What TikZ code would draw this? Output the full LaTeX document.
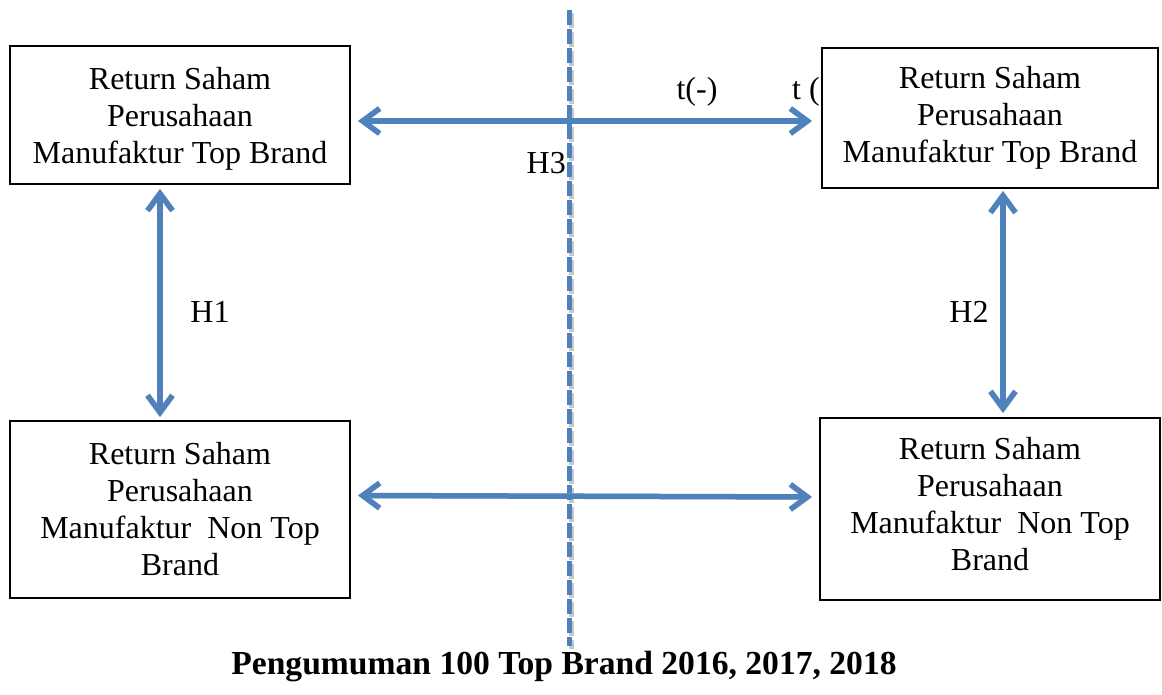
\documentclass[tikz,border=0pt]{standalone}
\usepackage{fontspec}
\setmainfont{Liberation Serif}
\usetikzlibrary{arrows.meta}
\definecolor{ablue}{RGB}{79,129,189}
\definecolor{ashadow}{RGB}{200,200,200}
\tikzset{
  box/.style={draw=black, line width=2pt, fill=white, align=center,
    font=\fontsize{32}{37}\selectfont, inner sep=0pt},
  lbl/.style={font=\fontsize{32}{37}\selectfont, inner sep=0pt},
  tips/.style={{Straight Barb[length=17pt,width=25pt]}-{Straight Barb[length=17pt,width=25pt]}},
  conn/.style={draw=ablue, line width=5.5pt, tips},
  connshadow/.style={draw=ashadow, line width=5.5pt, tips},
  divider/.style={draw=ablue, line width=5pt, dash pattern=on 15pt off 4pt},
  dividershadow/.style={draw=ashadow, line width=5pt, dash pattern=on 15pt off 4pt},
}
\begin{document}
\begin{tikzpicture}[x=1pt,y=-1pt]
\useasboundingbox (0,0) rectangle (1162,695);

% divider
\coordinate (dtop) at (569,10);
\coordinate (dbot) at (569,646);
\draw[dividershadow] ([shift={(2,3)}]dtop) -- ([shift={(2,3)}]dbot);
\draw[divider] (dtop) -- (dbot);

% label partly hidden behind the right box
\node[lbl, anchor=west] (tplus) at (792,92) {t (+)};

% boxes
\node[box, minimum width=340pt, minimum height=138pt, text depth=0pt] (tl) at (180,115)
  {Return Saham\\Perusahaan\\Manufaktur Top Brand};
\node[box, minimum width=336pt, minimum height=140pt] (tr) at (990,118)
  {Return Saham\\Perusahaan\\Manufaktur Top Brand};
\node[box, minimum width=340pt, minimum height=177pt] (bl) at (180,509.5)
  {Return Saham\\Perusahaan\\Manufaktur\ \ Non Top\\Brand};
\node[box, minimum width=340pt, minimum height=182pt, text depth=10pt] (br) at (990,509)
  {Return Saham\\Perusahaan\\Manufaktur\ \ Non Top\\Brand};

% labels
\node[lbl] (tminus) at (697,92) {t(-)};
\node[lbl, anchor=east] (h3) at (566,163) {H3};
\node[lbl] (h1) at (210,312) {H1};
\node[lbl] (h2) at (969,312) {H2};
\node[font=\fontsize{33.6}{38}\selectfont\bfseries, inner sep=0pt] (title) at (564,667)
  {Pengumuman 100 Top Brand 2016, 2017, 2018};

% connectors: shadows
\begin{scope}[shift={(2,4)}]
\draw[connshadow] ([shift={(7,6)}]tl.east) -- ([shift={(-9,3)}]tr.west);
\draw[connshadow] ([shift={(7,-14)}]bl.east) -- ([shift={(-7,-12)}]br.west);
\draw[connshadow] ([shift={(-20,4)}]tl.south) -- ([shift={(-20,-3)}]bl.north);
\draw[connshadow] ([shift={(13,2)}]tr.south) -- ([shift={(13,-4)}]br.north);
\end{scope}
% connectors
\draw[conn] ([shift={(7,6)}]tl.east) -- ([shift={(-9,3)}]tr.west);
\draw[conn] ([shift={(7,-14)}]bl.east) -- ([shift={(-7,-12)}]br.west);
\draw[conn] ([shift={(-20,4)}]tl.south) -- ([shift={(-20,-3)}]bl.north);
\draw[conn] ([shift={(13,2)}]tr.south) -- ([shift={(13,-4)}]br.north);
\end{tikzpicture}
\end{document}
